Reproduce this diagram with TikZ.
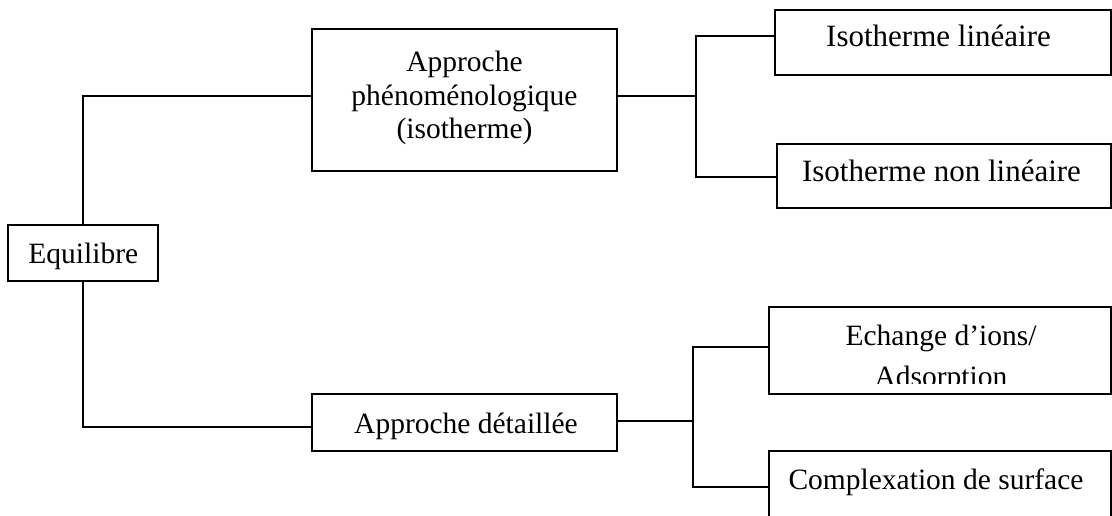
\documentclass[tikz,border=0pt]{standalone}
\usepackage{fontspec}
\setmainfont{Liberation Serif}
\begin{document}
\begin{tikzpicture}[x=1pt,y=-1pt,
  box/.style={draw, line width=2pt, inner sep=0pt, outer sep=0pt, anchor=north west},
  txt/.style={anchor=base, inner sep=0pt, font=\fontsize{29.5}{33}\selectfont},
  bigtxt/.style={txt, font=\fontsize{31}{35}\selectfont},
  conn/.style={line width=2pt}]
\useasboundingbox (0,0) rectangle (1112,515);
\clip (0,0) rectangle (1112,515);
% boxes
\node[box, minimum width=150pt, minimum height=56pt] (equi) at (8,225) {};
\node[box, minimum width=305pt, minimum height=142pt] (phen) at (312,29) {};
\node[box, minimum width=305pt, minimum height=57pt] (detail) at (312,394) {};
\node[box, minimum width=335.5pt, minimum height=65pt] (isolin) at (775,10) {};
\node[box, minimum width=333.5pt, minimum height=64pt] (isonl) at (777,144) {};
\node[box, minimum width=341.5pt, minimum height=87pt] (echange) at (769,307) {};
\node[box, minimum width=341.5pt, minimum height=72pt] (complex) at (769,451) {};
% texts
\node[txt] (equiT) at (83.3,263) {Equilibre};
\node[txt] (phenT1) at (464.5,71.5) {Approche};
\node[txt] (phenT2) at (464.5,105) {phénoménologique};
\node[txt] (phenT3) at (464.5,138.5) {(isotherme)};
\node[txt] (detailT) at (466,433.5) {Approche détaillée};
\node[bigtxt] (isolinT) at (938.5,46.5) {Isotherme linéaire};
\node[bigtxt] (isonlT) at (941.5,181) {Isotherme non linéaire};
\node[txt] (echT1) at (941,345) {Echange d’ions/};
\begin{scope}
\clip (769,307) rectangle (1111,383.5);
\node[txt] (echT2) at (941,386) {Adsorption};
\end{scope}
\node[txt] (complexT) at (936,489) {Complexation de surface};
% connectors
\draw[conn] (equi.north) |- ([yshift=4pt]phen.west);
\draw[conn] (equi.south) |- ([yshift=-4.5pt]detail.west);
\coordinate (jt) at (696,96);
\draw[conn] ([yshift=4pt]phen.east) -- (jt);
\draw[conn] ([yshift=6.5pt]isolin.west) -| (jt) |- ([yshift=-1pt]isonl.west);
\coordinate (jb) at (693,421);
\draw[conn] ([yshift=1.5pt]detail.east) -- (jb);
\draw[conn] ([yshift=3.5pt]echange.west) -| (jb) |- (complex.west);
\end{tikzpicture}
\end{document}
